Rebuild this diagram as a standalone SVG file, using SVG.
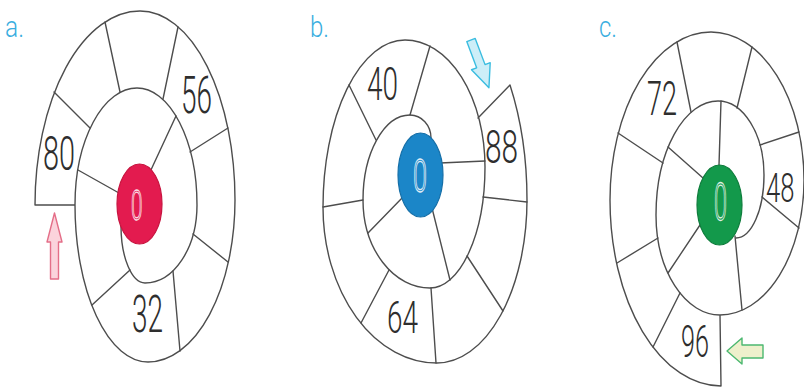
<svg xmlns="http://www.w3.org/2000/svg" width="804" height="391" viewBox="0 0 804 391">
<style>
.ln{fill:none;stroke:#4d4d4d;stroke-width:1.4;stroke-linecap:round;stroke-linejoin:round}
.num{font-family:Roboto,"Open Sans","Liberation Sans",sans-serif;font-weight:300;fill:#2e2e2e;}
.zero{font-family:Roboto,"Liberation Sans",sans-serif;font-weight:300;fill:none;stroke:#fff;stroke-width:1.3;opacity:0.85}
.lab{font-family:Roboto,"Liberation Sans",sans-serif;font-weight:300;fill:#3aaee0;font-size:30px}
</style>
<rect width="804" height="391" fill="#fff"/>

<text class="lab" x="5" y="37" textLength="19" lengthAdjust="spacingAndGlyphs">a.</text>
<text class="lab" x="310" y="37" textLength="19" lengthAdjust="spacingAndGlyphs">b.</text>
<text class="lab" x="599" y="37" textLength="18" lengthAdjust="spacingAndGlyphs">c.</text>

<g id="connectors">
  <!-- spiral a -->
  <path class="ln" d="M121 226 A24 57 0 0 0 145 283 A52 78 0 0 0 197 205 A60 117 0 0 0 137 88 A62 117 0 0 0 75 205 A73 157 0 0 0 148 362 A87 162 0 0 0 235 200 A95 189 0 0 0 140 11 A105 194 0 0 0 35 205 L75 205"/>
  <path class="ln" d="M119 193 L78 170 M150 172 L176 116 M90 128 L54 92 M120 92 L105 22 M163 99 L178 27 M190 152 L228 128 M193 234 L228 262 M173 271 L180 351 M130 270 L92 305"/>
  <!-- spiral b -->
  <path class="ln" d="M431 138 A21 23 0 0 0 410 115 A47 85 0 0 0 363 200 A67 88 0 0 0 430 288 A55 121 0 0 0 485 167 A80 127 0 0 0 405 40 A82 167 0 0 0 323 207 A114 156 0 0 0 437 363 A90 163 0 0 0 527 200 A112 217 0 0 0 510 85 L478 118"/>
  <path class="ln" d="M440 163 L485 161 M403 197 L368 233 M432 208 L450 280 M410 115 L430 46 M376 140 L349 85 M363 200 L323 207 M389 270 L361 323 M431 288 L436 363 M467 256 L503 311 M483 197 L527 202"/>
  <!-- spiral c -->
  <path class="ln" d="M736 238 A28 63 0 0 0 764 175 A46 74 0 0 0 718 101 A62 114 0 0 0 656 215 A64 100 0 0 0 720 315 A84 135 0 0 0 804 180 A93 148 0 0 0 711 32 A101 168 0 0 0 610 200 A111 186 0 0 0 721 386 L720 315"/>
  <path class="ln" d="M719 165 L721 101 M703 178 L668 147 M702 222 L668 273 M735 236 L742 310 M762 197 L799 228 M760 145 L799 132 M737 108 L752 47 M691 112 L677 42 M663 163 L618 133 M658 238 L617 263 M680 293 L653 347"/>
</g>

<g id="node-a">
  <ellipse cx="139.5" cy="204" rx="22.5" ry="40" fill="#e31b4f" stroke="#c8143f" stroke-width="1.2"/>
  <text class="zero" x="131" y="220" font-size="42" textLength="11.5" lengthAdjust="spacingAndGlyphs">0</text>
  <text class="num" x="43" y="170" font-size="48" textLength="32" lengthAdjust="spacingAndGlyphs">80</text>
  <text class="num" x="181" y="113" font-size="52" textLength="31" lengthAdjust="spacingAndGlyphs">56</text>
  <text class="num" x="132" y="332" font-size="51" textLength="31" lengthAdjust="spacingAndGlyphs">32</text>
  <polygon points="54.5,213 62,242 58.5,242 58.5,279 50.5,279 50.5,242 47,242" fill="#fbd3dc" stroke="#e46e88" stroke-width="1.4" stroke-linejoin="round"/>
</g>

<g id="node-b">
  <ellipse cx="420.5" cy="175" rx="22.5" ry="42" fill="#1b86c8" stroke="#156fa8" stroke-width="1.2"/>
  <text class="zero" x="413" y="192" font-size="47" textLength="14" lengthAdjust="spacingAndGlyphs">0</text>
  <text class="num" x="367" y="100" font-size="46" textLength="31" lengthAdjust="spacingAndGlyphs">40</text>
  <text class="num" x="485" y="163" font-size="46" textLength="33" lengthAdjust="spacingAndGlyphs">88</text>
  <text class="num" x="387" y="333" font-size="44" textLength="31" lengthAdjust="spacingAndGlyphs">64</text>
  <polygon points="0,-4.5 28,-4.5 28,-10 51,0 28,10 28,4.5 0,4.5" transform="translate(471,40) rotate(69.4)" fill="#cdeef8" stroke="#3bbde0" stroke-width="1.4" stroke-linejoin="round"/>
</g>

<g id="node-c">
  <ellipse cx="719.5" cy="205" rx="22.5" ry="40" fill="#13994b" stroke="#0e7d3c" stroke-width="1.2"/>
  <text class="zero" x="714" y="220" font-size="52" textLength="13" lengthAdjust="spacingAndGlyphs">0</text>
  <text class="num" x="647" y="115" font-size="49" textLength="30" lengthAdjust="spacingAndGlyphs">72</text>
  <text class="num" x="0" y="0" font-size="40" transform="translate(766,202) scale(0.64,1)">48</text>
  <text class="num" x="681" y="357" font-size="45" textLength="28" lengthAdjust="spacingAndGlyphs">96</text>
  <polygon points="727,351 742,338 742,345 763,345 763,358 742,358 742,364" fill="#eef0cc" stroke="#4cb870" stroke-width="1.4" stroke-linejoin="round"/>
</g>
</svg>
